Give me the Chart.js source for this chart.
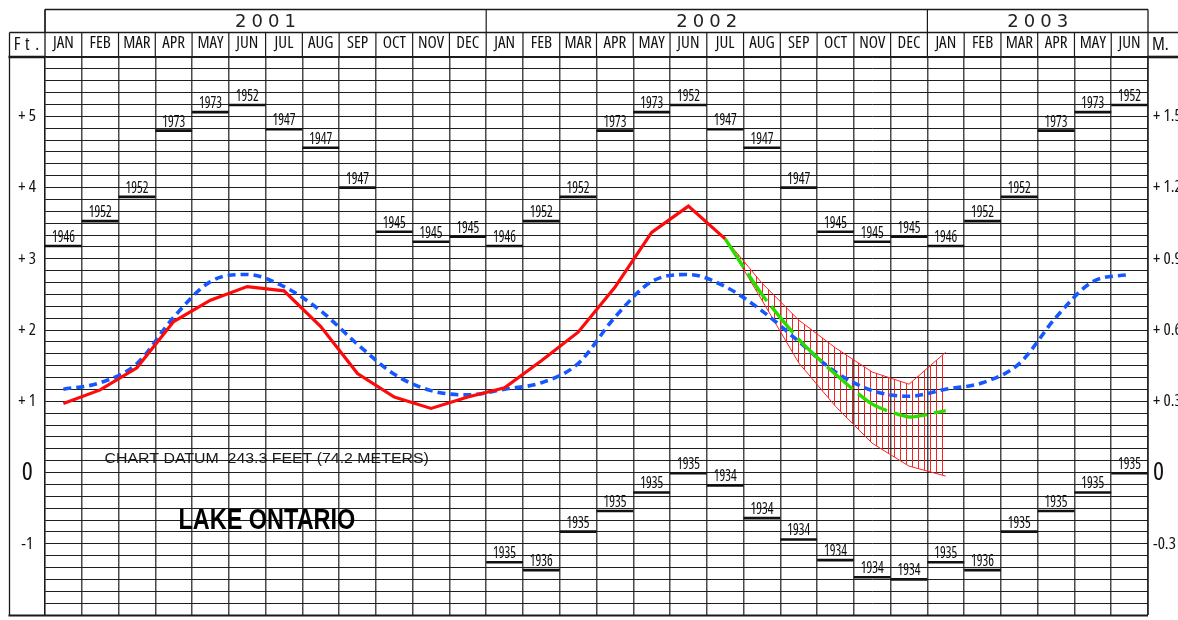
<!DOCTYPE html>
<html>
<head>
<meta charset="utf-8">
<script src="https://cdn.jsdelivr.net/npm/chart.js@4/dist/chart.umd.min.js"></script>
<style>
html,body{margin:0;padding:0;background:#fff;}
#c{display:block;}
</style>
</head>
<body>
<canvas id="c" width="1178" height="620"></canvas>
<script>
// ---------- DATA ----------
const months = ['JAN','FEB','MAR','APR','MAY','JUN','JUL','AUG','SEP','OCT','NOV','DEC',
                'JAN','FEB','MAR','APR','MAY','JUN','JUL','AUG','SEP','OCT','NOV','DEC',
                'JAN','FEB','MAR','APR','MAY','JUN'];
const years = ['2001','2002','2003'];
const yearMonthCounts = [12, 12, 6];

// recorded monthly mean level (ft above chart datum), Jan 2001 - Jul 2002
const recorded = [0.97,1.16,1.47,2.12,2.42,2.61,2.55,2.05,1.39,1.06,0.90,1.06,
                  1.19,1.57,1.97,2.60,3.37,3.74,3.28,
                  null,null,null,null,null,null,null,null,null,null,null];
// long-term average
const average = [1.17,1.26,1.53,2.18,2.68,2.78,2.61,2.27,1.80,1.38,1.15,1.09,
                 1.17,1.26,1.53,2.18,2.68,2.78,2.61,2.27,1.84,1.41,1.15,1.07,
                 1.17,1.26,1.53,2.18,2.68,2.78];
// forecast, Jul 2002 - Jan 2003
const forecast = [null,null,null,null,null,null,null,null,null,null,null,null,
                  null,null,null,null,null,null,3.28,2.50,1.87,1.38,0.96,0.78,0.87,
                  null,null,null,null,null];
const rangeHigh = [null,null,null,null,null,null,null,null,null,null,null,null,
                   null,null,null,null,null,null,3.28,2.66,2.14,1.75,1.41,1.24,1.69,
                   null,null,null,null,null];
const rangeLow = [null,null,null,null,null,null,null,null,null,null,null,null,
                  null,null,null,null,null,null,3.28,2.42,1.54,0.93,0.41,0.09,-0.05,
                  null,null,null,null,null];
// record highs / lows with the year they were set
const recordHigh = [3.18,3.53,3.87,4.80,5.06,5.16,4.82,4.56,4.00,3.38,3.24,3.31,
                    3.18,3.53,3.87,4.80,5.06,5.16,4.82,4.56,4.00,3.38,3.24,3.31,
                    3.18,3.53,3.87,4.80,5.06,5.16];
const recordHighYear = ['1946','1952','1952','1973','1973','1952','1947','1947','1947','1945','1945','1945',
                        '1946','1952','1952','1973','1973','1952','1947','1947','1947','1945','1945','1945',
                        '1946','1952','1952','1973','1973','1952'];
const recordLow = [null,null,null,null,null,null,null,null,null,null,null,null,
                   -1.26,-1.37,-0.83,-0.54,-0.28,-0.01,-0.18,-0.64,-0.94,-1.23,-1.47,-1.50,
                   -1.26,-1.37,-0.83,-0.54,-0.28,-0.01];
const recordLowYear = ['','','','','','','','','','','','',
                       '1935','1936','1935','1935','1935','1935','1934','1934','1934','1934','1934','1934',
                       '1935','1936','1935','1935','1935','1935'];
const ftTickValues = [5,4,3,2,1,0,-1];
const ftTickLabels = ['+ 5','+ 4','+ 3','+ 2','+ 1','0','-1'];
const mTickLabels = ['+ 1.5','+ 1.2','+ 0.9','+ 0.6','+ 0.3','0','-0.3'];
const yMin = -2, yMax = 35/6, minorPerFoot = 6;

// ---------- FONTS ----------
function pickNarrow() {
  const c = document.createElement('canvas').getContext('2d');
  const cands = ["'Noto Sans'", "'Open Sans'", "Roboto", "'DejaVu Sans'", "'Liberation Sans'", "Lato", "Inter"];
  const probe = 'JANFEBMAR 1952 +1.5';
  for (const f of cands) {
    c.font = "16px " + f; const w0 = c.measureText(probe).width;
    c.font = "condensed 16px " + f; const w1 = c.measureText(probe).width;
    if (w1 < w0 * 0.92) return { family: f + ",'Liberation Sans',sans-serif", weight: 'condensed' };
  }
  return { family: "'Liberation Sans',sans-serif", weight: undefined };
}
const NARROW = pickNarrow();
const NFONT = (size, bold) => (NARROW.weight ? NARROW.weight + ' ' : '') + (bold ? 'bold ' : '') + size + 'px ' + NARROW.family;

// ---------- STYLE ----------
const canvas = document.getElementById('c');
const mainCtx = canvas.getContext('2d');
const hc = document.createElement('canvas');
hc.width = 6; hc.height = 8;
const hctx = hc.getContext('2d');
hctx.strokeStyle = 'rgba(255,20,20,0.95)';
hctx.lineWidth = 1;
hctx.beginPath(); hctx.moveTo(0.5,0); hctx.lineTo(0.5,8); hctx.stroke();
const hatch = mainCtx.createPattern(hc, 'repeat');

function halfMonth(c) {
  const xs = c.chart.scales.x;
  return xs ? (xs.right - xs.left) / months.length / 2 : 18;
}
function fitText(ctx, text, x, y, font, width, align, baseline) {
  ctx.save();
  ctx.font = font;
  const m = ctx.measureText(text);
  const sx = width ? width / m.width : 1;
  ctx.textAlign = align || 'center';
  ctx.textBaseline = baseline || 'middle';
  ctx.translate(x, y);
  ctx.scale(sx, 1);
  ctx.fillText(text, 0, 0);
  ctx.restore();
}

const framePlugin = {
  id: 'frame',
  afterDraw(chart) {
    const ctx = chart.ctx, a = chart.chartArea, W = chart.width;
    const ys = chart.scales.y;
    const mw = (a.right - a.left) / months.length;
    const top = 9.5, mid = 32.5, left = 9.5;
    const line = (x0, y0, x1, y1) => { ctx.beginPath(); ctx.moveTo(x0, y0); ctx.lineTo(x1, y1); ctx.stroke(); };
    ctx.save();
    ctx.strokeStyle = '#1a1a1a';
    ctx.lineWidth = 1.3;
    line(a.left, top, a.right, top);
    line(left, mid, W, mid);
    line(left, mid, left, a.bottom + 1);
    line(a.left, top, a.left, a.top);
    line(a.right, top, a.right, a.bottom);
    ctx.lineWidth = 1.2;
    for (let i = 1; i < months.length; i++) {
      const xp = a.left + i * mw;
      line(xp, mid, xp, a.top);
    }
    // year row
    let idx = 0;
    ctx.fillStyle = '#222';
    years.forEach((yr, k) => {
      const s = idx; idx += yearMonthCounts[k];
      const x0 = a.left + s * mw, x1 = a.left + idx * mw;
      line(x0, top, x0, mid);
      const cx = (x0 + x1) / 2;
      ctx.save();
      ctx.font = "18px 'DejaVu Sans',sans-serif";
      ctx.textAlign = 'center';
      ctx.textBaseline = 'middle';
      const chars = yr.split('');
      chars.forEach((ch, j) => ctx.fillText(ch, cx + (j - (chars.length - 1) / 2) * 16.5, 22));
      ctx.restore();
    });
    // heavy underlines of unit cells and bottom frame
    ctx.lineWidth = 2.6;
    line(left - 1, a.top, a.left, a.top);
    line(a.right, a.top, W, a.top);
    ctx.lineWidth = 2.2;
    line(left - 1, a.bottom + 0.5, a.right, a.bottom + 0.5);
    // unit labels
    ctx.fillStyle = '#111';
    ctx.save();
    ctx.font = NFONT(18);
    ctx.textBaseline = 'middle';
    ctx.textAlign = 'center';
    ['F', 't', '.'].forEach((ch, j) => ctx.fillText(ch, (left + a.left) / 2 + (j - 1) * 10, 45));
    ctx.textAlign = 'left';
    ctx.fillText('M.', a.right + 4, 45);
    ctx.restore();

    // record year labels
    ctx.fillStyle = '#111';
    [[5, recordHighYear], [6, recordLowYear]].forEach(([di, labels]) => {
      const meta = chart.getDatasetMeta(di);
      meta.data.forEach((pt, i) => {
        const v = chart.data.datasets[di].data[i];
        if (v === null || !labels[i]) return;
        fitText(ctx, labels[i], pt.x, pt.y - 4, NFONT(17), 23, 'center', 'alphabetic');
      });
    });

    // annotations
    ctx.fillStyle = '#1a1a1a';
    fitText(ctx, 'CHART DATUM  243.3 FEET (74.2 METERS)', a.left + 1.62 * mw, ys.getPixelForValue(0.19),
      "15px 'Liberation Sans',sans-serif", 8.82 * mw, 'left', 'middle');
    ctx.fillStyle = '#000';
    fitText(ctx, 'LAKE ONTARIO', a.left + 3.63 * mw, ys.getPixelForValue(-0.68),
      "bold 29px 'Liberation Sans',sans-serif", 4.81 * mw, 'left', 'middle');
    ctx.restore();
  }
};

function minorTicks(scale) {
  const t = [];
  for (let i = 0; i <= Math.round((yMax - yMin) * minorPerFoot); i++) t.push({ value: yMin + i / minorPerFoot });
  scale.ticks = t;
}
function labelFor(list) {
  return (value) => {
    const k = ftTickValues.findIndex(t => Math.abs(t - value) < 1e-6);
    return k >= 0 ? list[k] : '';
  };
}
function tickFont(c) {
  const isZero = c.tick && Math.abs(c.tick.value) < 1e-6;
  return { family: NARROW.family, size: isZero ? 26 : 17, weight: NARROW.weight };
}
function noPad(s) { s.paddingTop = 0; s.paddingBottom = 0; }

new Chart(canvas, {
  type: 'line',
  data: {
    labels: months,
    datasets: [
      { label: 'Recorded', data: recorded, borderColor: '#ff0a0a', borderWidth: 3.2, pointRadius: 0, tension: 0 },
      { label: 'Forecast', data: forecast, borderColor: '#2adc00', borderWidth: 3.4, borderDash: [34, 7], pointRadius: 0, tension: 0.2 },
      { label: 'Average', data: average, borderColor: '#1658ff', borderWidth: 3.6, borderDash: [8, 5], pointRadius: 0, cubicInterpolationMode: 'monotone' },
      { label: 'Range high', data: rangeHigh, borderColor: '#ff2020', borderWidth: 1, pointRadius: 0, tension: 0, fill: false },
      { label: 'Range low', data: rangeLow, borderColor: '#ff2020', borderWidth: 1, pointRadius: 0, tension: 0, fill: '-1', backgroundColor: hatch },
      { label: 'Record high', data: recordHigh, showLine: false, pointStyle: 'line', pointRadius: halfMonth, pointHoverRadius: halfMonth, pointBorderWidth: 2.6, pointBorderColor: '#111' },
      { label: 'Record low', data: recordLow, showLine: false, pointStyle: 'line', pointRadius: halfMonth, pointHoverRadius: halfMonth, pointBorderWidth: 2.6, pointBorderColor: '#111' }
    ]
  },
  options: {
    responsive: false,
    animation: false,
    events: [],
    layout: { padding: { left: 10, right: 0, top: 32, bottom: 5 } },
    plugins: { legend: { display: false }, tooltip: { enabled: false } },
    scales: {
      x: {
        type: 'category',
        position: 'top',
        offset: true,
        grid: { offset: true, color: '#4a4a4a', lineWidth: 1.5, drawTicks: false },
        border: { display: true, color: '#1a1a1a', width: 1.3 },
        ticks: { autoSkip: false, maxRotation: 0, padding: 4, color: '#111', font: { family: NARROW.family, size: 17, weight: NARROW.weight } },
        afterFit(s) { s.height = 25; s.paddingLeft = 0; s.paddingRight = 0; }
      },
      y: {
        type: 'linear',
        position: 'left',
        min: yMin, max: yMax,
        afterBuildTicks: minorTicks,
        grid: { color: '#1e1e1e', lineWidth: 1, drawTicks: false },
        border: { display: true, color: '#1a1a1a', width: 1.3 },
        ticks: {
          autoSkip: false, crossAlign: 'center', padding: 9, color: '#111',
          callback: labelFor(ftTickLabels),
          font: tickFont
        },
        afterFit(s) { s.width = 35; noPad(s); }
      },
      y2: {
        type: 'linear',
        position: 'right',
        min: yMin, max: yMax,
        afterBuildTicks(s) { s.ticks = ftTickValues.map(v => ({ value: v })); },
        grid: { display: false, drawTicks: false },
        border: { display: false },
        ticks: {
          autoSkip: false, crossAlign: 'near', padding: 5, color: '#111',
          callback: labelFor(mTickLabels),
          font: tickFont
        },
        afterFit(s) { s.width = 30; noPad(s); }
      }
    }
  },
  plugins: [framePlugin]
});
</script>
</body>
</html>
